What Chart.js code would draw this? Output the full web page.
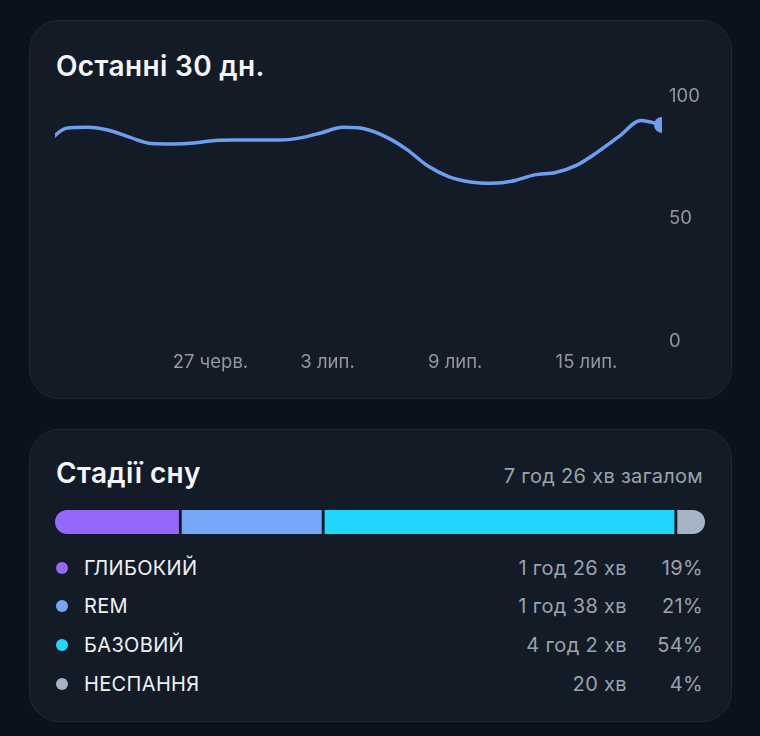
<!DOCTYPE html>
<html>
<head>
<meta charset="utf-8">
<script src="https://cdn.jsdelivr.net/npm/chart.js@4/dist/chart.umd.min.js"></script>
<style>
  html, body { margin: 0; padding: 0; width: 760px; height: 736px; overflow: hidden; background: #0b121d; font-family: Inter, Roboto, "Noto Sans", sans-serif; }
  .card { position: absolute; left: 29px; width: 703px; box-sizing: border-box; background: #131b27; border: 1px solid #1f2835; border-radius: 30px; }
  #card1 { top: 20px; height: 379px; }
  #card2 { top: 429px; height: 293px; }
  .abs { position: absolute; white-space: nowrap; }
  .title { color: #f3f5f8; font-weight: 600; font-size: 28px; line-height: 32px; letter-spacing: 0.35px; }
  .sub { color: #9aa3ae; font-size: 20px; line-height: 24px; letter-spacing: 0.3px; }
  .row { position: absolute; left: 0; width: 760px; height: 24px; font-size: 20px; line-height: 24px; letter-spacing: 0.35px; }
  .row .dot { position: absolute; left: 56px; top: 6px; width: 12px; height: 12px; border-radius: 50%; }
  .row .name { position: absolute; left: 84px; top: 0; color: #eef1f5; }
  .row .dur { position: absolute; right: 133px; top: 0; color: #9aa3ae; text-align: right; }
  .row .pct { position: absolute; right: 57px; top: 0; color: #9aa3ae; text-align: right; }
  canvas { position: absolute; }
</style>
</head>
<body>
<div class="card" id="card1"></div>
<div class="card" id="card2"></div>
<div class="abs title" id="t1" style="left:56px; top:50px;">Останні 30 дн.</div>
<canvas id="line" width="704" height="378" style="left:28px; top:20px;"></canvas>
<div class="abs title" id="t2" style="left:56px; top:457px;">Стадії сну</div>
<div class="abs sub" id="total" style="right:57px; top:464px;"></div>
<canvas id="bar" width="650" height="24" style="left:55px; top:510px;"></canvas>
<div id="legend"></div>
<script>
// ---- Line chart data (score, last 30 days; day 0 = 20 черв.) ----
const days = [1,2,3,4,5,6,7,8,9,10,11,12,13,14,15,16,17,18,19,20,21,22,23,24,25,26,27,28,29,30];
const scores = [80,86.8,87.2,86,83.1,80.6,80.4,80.8,81.8,82,82,82,82.9,85,87.2,86.6,83.4,78.2,71.4,67,64.9,64.4,65.3,67.8,68.8,71.8,77.3,83.6,90,88.2];
const tickDays = [7,13,19,25];
const tickLabels = ['27 черв.','3 лип.','9 лип.','15 лип.'];
const yTicks = [0,50,100];

// ---- Sleep stages ----
const stageNames = ['ГЛИБОКИЙ','REM','БАЗОВИЙ','НЕСПАННЯ'];
const stageMinutes = [86,98,242,20];
const stagePercents = [19,21,54,4];
const stageColors = ['#9668f9','#75a7f8','#20d6fc','#a5b3c7'];

const cardBg = '#131b27';
const lineColor = '#6d9ff1';

function fmtMin(m) {
  const h = Math.floor(m / 60), r = m % 60;
  return h > 0 ? h + ' год ' + r + ' хв' : r + ' хв';
}

// ---- line chart ----
new Chart(document.getElementById('line'), {
  type: 'line',
  data: {
    datasets: [{
      data: days.map((d, i) => ({ x: d, y: scores[i] })),
      borderColor: lineColor,
      borderWidth: 3.5,
      pointRadius: days.map((d, i) => i === days.length - 1 ? 8 : 0),
      pointBackgroundColor: lineColor,
      pointBorderWidth: 0,
      cubicInterpolationMode: 'monotone',
      borderCapStyle: 'round',
      borderJoinStyle: 'round',
      clip: 0,
      fill: false
    }]
  },
  options: {
    responsive: false,
    devicePixelRatio: 1,
    animation: false,
    events: [],
    layout: { autoPadding: false, padding: { left: 27, top: 76, right: 0, bottom: 17 } },
    plugins: { legend: { display: false }, tooltip: { enabled: false } },
    scales: {
      x: {
        type: 'linear',
        min: 1.47,
        max: 30,
        grid: { display: false, drawTicks: false },
        border: { display: false },
        afterBuildTicks: s => { s.ticks = tickDays.map(v => ({ value: v })); },
        afterFit: s => { s.height = 40; },
        ticks: {
          align: 'start',
          padding: 10,
          color: '#8f98a4',
          font: { family: 'Inter', size: 18.5 },
          maxRotation: 0,
          autoSkip: false,
          callback: v => tickLabels[tickDays.indexOf(v)]
        }
      },
      y: {
        position: 'right',
        min: 0,
        max: 100,
        grid: { display: false, drawTicks: false },
        border: { display: false },
        afterBuildTicks: s => { s.ticks = yTicks.map(v => ({ value: v })); },
        afterFit: s => { s.width = 70; },
        ticks: {
          padding: 7,
          color: '#8f98a4',
          font: { family: 'Inter', size: 18.5 }
        }
      }
    }
  }
});

// ---- stacked sleep stage bar ----
const total = stageMinutes.reduce((a, b) => a + b, 0);
const gap = 1.75;
new Chart(document.getElementById('bar'), {
  type: 'bar',
  data: {
    labels: ['sleep'],
    datasets: stageNames.map((n, i) => ({
      label: n,
      data: [stageMinutes[i]],
      backgroundColor: stageColors[i],
      borderColor: cardBg,
      borderWidth: { top: 0, bottom: 0, left: i === 0 ? 0 : gap, right: i === stageNames.length - 1 ? 0 : gap },
      borderSkipped: false,
      borderRadius: i === 0 ? { topLeft: 12, bottomLeft: 12, topRight: 0, bottomRight: 0 }
                  : i === stageNames.length - 1 ? { topLeft: 0, bottomLeft: 0, topRight: 12, bottomRight: 12 } : 0,
      barPercentage: 1,
      categoryPercentage: 1
    }))
  },
  options: {
    indexAxis: 'y',
    responsive: false,
    devicePixelRatio: 1,
    animation: false,
    events: [],
    layout: { padding: 0, autoPadding: false },
    plugins: { legend: { display: false }, tooltip: { enabled: false } },
    scales: {
      x: { stacked: true, display: false, min: 0, max: total },
      y: { stacked: true, display: false }
    }
  }
});

// ---- texts ----
document.getElementById('total').textContent = fmtMin(total) + ' загалом';
const legend = document.getElementById('legend');
const rowTops = [556, 594, 633, 672];
stageNames.forEach((n, i) => {
  const r = document.createElement('div');
  r.className = 'row';
  r.style.top = rowTops[i] + 'px';
  r.innerHTML = '<span class="dot" style="background:' + stageColors[i] + '"></span>' +
    '<span class="name">' + n + '</span>' +
    '<span class="dur">' + fmtMin(stageMinutes[i]) + '</span>' +
    '<span class="pct">' + stagePercents[i] + '%</span>';
  legend.appendChild(r);
});
</script>
</body>
</html>
